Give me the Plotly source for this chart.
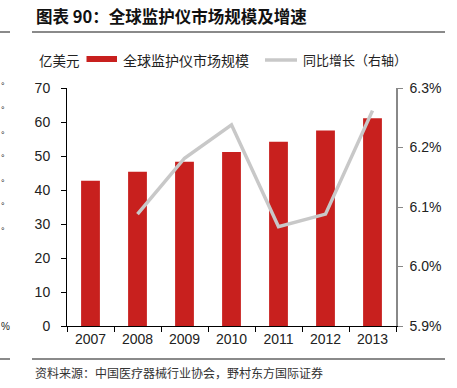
import plotly.graph_objects as go

years = ["2007", "2008", "2009", "2010", "2011", "2012", "2013"]
market = [42.7, 45.4, 48.3, 51.2, 54.2, 57.5, 61.1]
growth_years = ["2008", "2009", "2010", "2011", "2012", "2013"]
growth = [6.088, 6.182, 6.238, 6.067, 6.088, 6.262]

title_text = "图表 90：全球监护仪市场规模及增速"
unit_text = "亿美元"
bar_name = "全球监护仪市场规模"
line_name = "同比增长（右轴）"
source_text = "资料来源：中国医疗器械行业协会，野村东方国际证券"

W, H = 457, 388
L, R, T, B = 67, 61, 88, 62
PW, PH = W - L - R, H - T - B

def px(x):
    return (x - L) / PW

def py(y):
    return (H - B - y) / PH

CJK = "Noto Sans CJK SC"
RED = "#C8201E"
GREY_LINE = "#C8C8C8"

fig = go.Figure()
fig.add_bar(x=years, y=market, marker_color=RED, marker_line_width=0,
            width=0.4, yaxis="y", showlegend=False, hoverinfo="skip")
fig.add_scatter(x=growth_years, y=growth, mode="lines",
                line=dict(color=GREY_LINE, width=3.5), yaxis="y2",
                showlegend=False, hoverinfo="skip")

shapes = [
    dict(type="line", xref="paper", yref="paper", x0=px(32), x1=px(445), y0=py(32), y1=py(32),
         line=dict(color="#8a8a8a", width=2)),
    dict(type="line", xref="paper", yref="paper", x0=px(32), x1=px(445), y0=py(359), y1=py(359),
         line=dict(color="#8a8a8a", width=2)),
    dict(type="line", xref="paper", yref="paper", x0=px(-2), x1=px(10), y0=py(32), y1=py(32),
         line=dict(color="#8a8a8a", width=2)),
    dict(type="line", xref="paper", yref="paper", x0=px(-2), x1=px(10), y0=py(359), y1=py(359),
         line=dict(color="#8a8a8a", width=2)),
    dict(type="rect", xref="paper", yref="paper", x0=px(86.5), x1=px(117), y0=py(62), y1=py(56),
         fillcolor=RED, line=dict(width=0)),
    dict(type="line", xref="paper", yref="paper", x0=px(265), x1=px(297), y0=py(60), y1=py(60),
         line=dict(color=GREY_LINE, width=3.5)),
]

annotations = [
    dict(text="<b>" + title_text + "</b>", xref="paper", yref="paper", x=px(34), y=py(16),
         xanchor="left", yanchor="middle", showarrow=False,
         font=dict(family=CJK, size=16.5, color="#111")),
    dict(text=unit_text, xref="paper", yref="paper", x=px(37), y=py(60),
         xanchor="left", yanchor="middle", showarrow=False,
         font=dict(family=CJK, size=13.5, color="#222")),
    dict(text=bar_name, xref="paper", yref="paper", x=px(121), y=py(60),
         xanchor="left", yanchor="middle", showarrow=False,
         font=dict(family=CJK, size=14, color="#222")),
    dict(text=line_name, xref="paper", yref="paper", x=px(301), y=py(60),
         xanchor="left", yanchor="middle", showarrow=False,
         font=dict(family=CJK, size=13, color="#222")),
    dict(text=source_text, xref="paper", yref="paper", x=px(33), y=py(372),
         xanchor="left", yanchor="middle", showarrow=False,
         font=dict(family=CJK, size=12, color="#333")),
]
# remnants of the neighbouring chart's axis labels at the left edge
for yy in [88, 112, 137, 160, 185, 208, 233]:
    annotations.append(dict(text="°", xref="paper", yref="paper", x=px(-1), y=py(yy - 2),
                            xanchor="left", yanchor="middle", showarrow=False,
                            font=dict(family="Liberation Sans", size=9, color="#222")))
annotations.append(dict(text="%", xref="paper", yref="paper", x=px(-1), y=py(326),
                        xanchor="left", yanchor="middle", showarrow=False,
                        font=dict(family="Liberation Sans", size=10, color="#222")))

fig.update_layout(
    width=W, height=H,
    margin=dict(l=L, r=R, t=T, b=B),
    paper_bgcolor="white", plot_bgcolor="white",
    font=dict(family="Liberation Sans", size=14, color="#222"),
    xaxis=dict(type="category", range=[-0.5, 6.5], showline=True, linecolor="#000",
               linewidth=1, ticks="outside", tickson="boundaries", ticklen=5,
               tickcolor="#000", showgrid=False, tickfont=dict(size=14)),
    yaxis=dict(range=[0, 70], dtick=10, showline=True, linecolor="#000", linewidth=1,
               ticks="outside", ticklen=5, tickcolor="#000", showgrid=False,
               zeroline=False, ticklabelstandoff=8, tickfont=dict(size=14)),
    yaxis2=dict(overlaying="y", side="right", range=[5.9, 6.3], dtick=0.1,
                tickformat=".1f", ticksuffix="%", showline=True, linecolor="#888",
                linewidth=1.5, ticks="outside", ticklen=5, tickcolor="#888",
                showgrid=False, zeroline=False, ticklabelstandoff=4,
                tickfont=dict(size=14)),
    shapes=shapes,
    annotations=annotations,
    showlegend=False,
    bargap=0.6,
    hovermode=False,
)

fig.write_html("out.html", config={"displayModeBar": False},
               post_script="document.body.style.margin='0';document.body.style.overflow='hidden';")
